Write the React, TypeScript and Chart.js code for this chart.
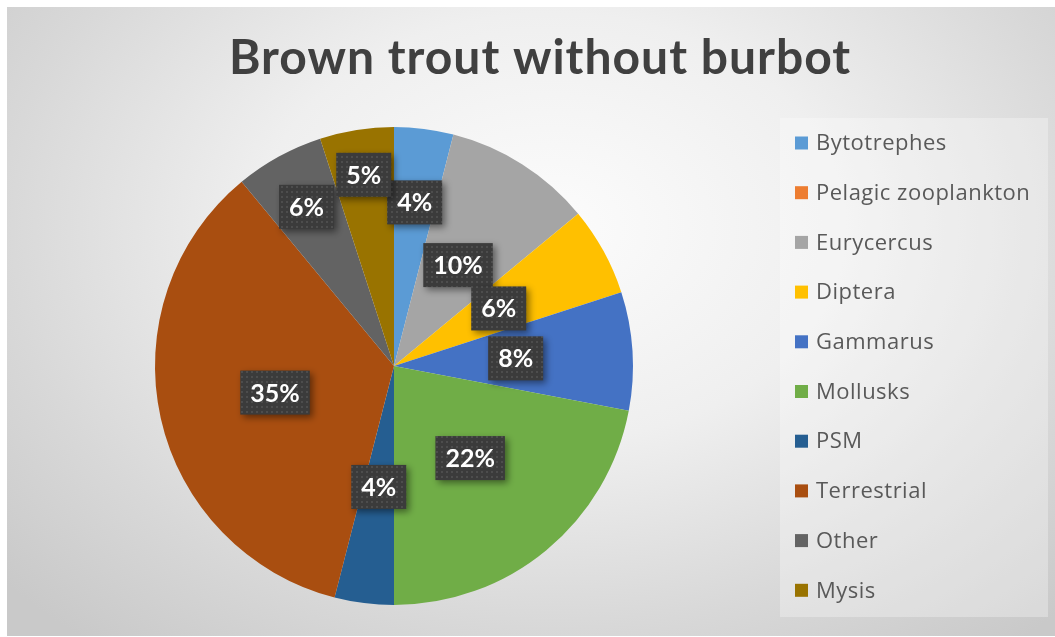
import React, { useEffect, useRef } from "react";
import { Chart, registerables } from "chart.js";

Chart.register(...registerables);

const TITLE = "Brown trout without burbot";
const categories = [
  "Bytotrephes",
  "Pelagic zooplankton",
  "Eurycercus",
  "Diptera",
  "Gammarus",
  "Mollusks",
  "PSM",
  "Terrestrial",
  "Other",
  "Mysis",
];
const shares = [4, 0, 10, 6, 8, 22, 4, 35, 6, 5];
const sliceColors = [
  "#5B9BD5",
  "#ED7D31",
  "#A5A5A5",
  "#FFC000",
  "#4472C4",
  "#70AD47",
  "#255E91",
  "#A94E10",
  "#636363",
  "#997300",
];
// radial position of each data label, as a fraction of the pie radius
const labelRadius = [0.69, 0.5, 0.5, 0.5, 0.51, 0.5, 0.51, 0.51, 0.76, 0.81];

function makePattern(ctx: CanvasRenderingContext2D) {
  const c = document.createElement("canvas");
  c.width = 5;
  c.height = 5;
  const p = c.getContext("2d")!;
  p.fillStyle = "#3b3b3b";
  p.fillRect(0, 0, 5, 5);
  p.fillStyle = "#4d4d4d";
  p.fillRect(1, 1, 2, 2);
  return ctx.createPattern(c, "repeat");
}

const decorPlugin = {
  id: "decor",
  afterDraw(chart: any) {
    const ctx: any = chart.ctx;
    const meta = chart.getDatasetMeta(0);
    const data: number[] = chart.data.datasets[0].data;
    const total = data.reduce((a, b) => a + b, 0);

    // Title
    ctx.save();
    ctx.fillStyle = "#404040";
    ctx.font = "bold 48px Lato";
    ctx.letterSpacing = "1px";
    ctx.textAlign = "center";
    ctx.textBaseline = "alphabetic";
    ctx.fillText(TITLE, 540, 74);
    ctx.restore();

    // Data labels
    const pattern = makePattern(ctx);
    meta.data.forEach((arc: any, i: number) => {
      const v = data[i];
      if (!v) return;
      const { x, y, startAngle, endAngle, outerRadius } = arc.getProps(
        ["x", "y", "startAngle", "endAngle", "outerRadius"],
        true
      );
      const mid = (startAngle + endAngle) / 2;
      const r = outerRadius * labelRadius[i];
      const px = x + Math.cos(mid) * r;
      const py = y + Math.sin(mid) * r;
      const text = Math.round((v / total) * 100) + "%";
      ctx.save();
      ctx.font = "bold 25px Lato";
      const tw = ctx.measureText(text).width;
      const w = tw + 20;
      const h = 44;
      ctx.shadowColor = "rgba(0,0,0,0.45)";
      ctx.shadowBlur = 7;
      ctx.shadowOffsetX = 3;
      ctx.shadowOffsetY = 3;
      ctx.fillStyle = pattern || "#3b3b3b";
      ctx.fillRect(px - w / 2, py - h / 2, w, h);
      ctx.shadowColor = "transparent";
      ctx.shadowBlur = 0;
      ctx.shadowOffsetX = 0;
      ctx.shadowOffsetY = 0;
      ctx.fillStyle = "#ffffff";
      ctx.textAlign = "center";
      ctx.textBaseline = "middle";
      ctx.fillText(text, px, py + 1);
      ctx.restore();
    });

    // Legend
    const lx = 780;
    const ly = 118;
    const lw = 268;
    const lh = 499;
    ctx.save();
    ctx.fillStyle = "rgba(255,255,255,0.3)";
    ctx.fillRect(lx, ly, lw, lh);
    ctx.font = "22px 'Open Sans'";
    ctx.letterSpacing = "0.5px";
    ctx.textBaseline = "middle";
    ctx.textAlign = "left";
    const colors: string[] = chart.data.datasets[0].backgroundColor;
    chart.data.labels.forEach((lab: string, i: number) => {
      const cy = 143 + i * 49.7;
      ctx.fillStyle = colors[i];
      ctx.fillRect(795, cy - 6.5, 13, 13);
      ctx.fillStyle = "#595959";
      ctx.fillText(lab, 816, cy + 1);
    });
    ctx.restore();
  },
};

export default function App() {
  const ref = useRef<HTMLCanvasElement | null>(null);
  useEffect(() => {
    if (!ref.current) return;
    const chart = new Chart(ref.current, {
      type: "pie",
      data: {
        labels: categories,
        datasets: [
          {
            data: shares,
            backgroundColor: sliceColors,
            borderWidth: 0,
          },
        ],
      },
      options: {
        animation: false,
        responsive: false,
        maintainAspectRatio: false,
        layout: { padding: { left: 155, right: 422, top: 127, bottom: 32 } },
        plugins: {
          legend: { display: false },
          tooltip: { enabled: false },
          title: { display: false },
        },
      },
      plugins: [decorPlugin],
    });
    return () => chart.destroy();
  }, []);
  return (
    <div
      style={{
        position: "absolute",
        left: 0,
        top: 0,
        width: 1055,
        height: 637,
        background: "#ffffff",
        overflow: "hidden",
      }}
    >
      <div
        style={{
          position: "absolute",
          left: 7,
          top: 7,
          width: 1048,
          height: 629,
          background:
            "radial-gradient(ellipse 70% 85% at 52% 35%, #fcfcfc 0%, #efefef 40%, #d8d8d8 75%, #c9c9c9 100%)",
        }}
      />
      <canvas
        ref={ref}
        width={1055}
        height={637}
        style={{ position: "absolute", left: 0, top: 0 }}
      />
    </div>
  );
}
